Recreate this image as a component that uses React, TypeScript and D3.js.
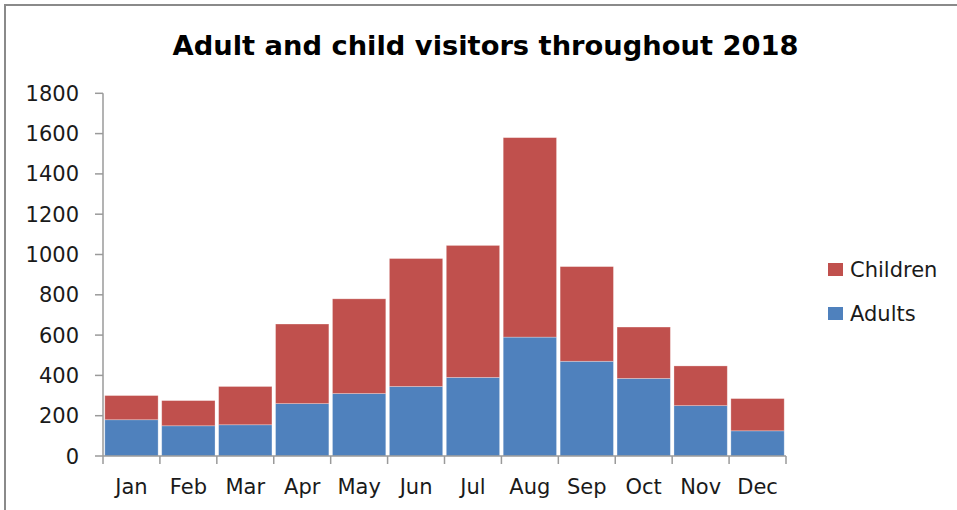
import React from "react";
import * as d3 from "d3";

const months = ["Jan", "Feb", "Mar", "Apr", "May", "Jun", "Jul", "Aug", "Sep", "Oct", "Nov", "Dec"];
const adults = [180, 150, 155, 260, 310, 345, 390, 590, 470, 385, 250, 125];
const children = [120, 125, 190, 395, 470, 635, 655, 990, 470, 255, 197, 160];
const seriesNames = ["Adults", "Children"];
const seriesColors = ["#4F81BD", "#C0504D"];
const yTicks = [0, 200, 400, 600, 800, 1000, 1200, 1400, 1600, 1800];
const title = "Adult and child visitors throughout 2018";

const W = 957;
const H = 510;
const plot = { left: 103, right: 786, top: 93.3, bottom: 456 };

export default function App() {
  const x = d3.scaleBand<string>().domain(months).range([plot.left, plot.right]).padding(0);
  const y = d3.scaleLinear().domain([0, 1800]).range([plot.bottom, plot.top]);
  const data = months.map((m, i) => ({ month: m, Adults: adults[i], Children: children[i] }));
  const stacked = d3.stack<any>().keys(seriesNames)(data);
  const bw = x.bandwidth();
  const font = "'DejaVu Sans', sans-serif";
  const axisColor = "#9a9a9a";
  const fs = 21;

  return (
    <svg width={W} height={H} style={{ position: "absolute", left: 0, top: 0, background: "#fff" }}>
      <rect x={0} y={0} width={W} height={H} fill="#fff" />
      <rect x={5} y={5} width={W + 20} height={H + 20} fill="none" stroke="#8a8a8a" strokeWidth={2} />
      <text x={485.5} y={55} textAnchor="middle" fontFamily={font} fontWeight="bold" fontSize={27.3} fill="#000">
        {title}
      </text>
      {stacked.map((s, si) => (
        <g key={s.key} fill={seriesColors[si]}>
          {s.map((d, i) => (
            <rect
              key={i}
              x={(x(months[i]) as number) + 1.8}
              width={bw - 3.6}
              y={y(d[1])}
              height={y(d[0]) - y(d[1])}
              stroke="rgba(255,255,255,0.35)"
              strokeWidth={0.8}
            />
          ))}
        </g>
      ))}
      {/* y axis */}
      <line x1={plot.left} x2={plot.left} y1={plot.top} y2={plot.bottom} stroke={axisColor} strokeWidth={1.5} />
      {yTicks.map((t) => (
        <g key={t}>
          <line x1={plot.left - 8} x2={plot.left} y1={y(t)} y2={y(t)} stroke={axisColor} strokeWidth={1.5} />
          <text x={79} y={y(t)} dy="0.36em" textAnchor="end" fontFamily={font} fontSize={fs} fill="#1a1a1a">
            {t}
          </text>
        </g>
      ))}
      {/* x axis */}
      <line x1={plot.left} x2={plot.right} y1={plot.bottom} y2={plot.bottom} stroke={axisColor} strokeWidth={1.5} />
      {[...months.map((m) => x(m) as number), plot.right].map((px, i) => (
        <line key={i} x1={px} x2={px} y1={plot.bottom} y2={plot.bottom + 8} stroke={axisColor} strokeWidth={1.5} />
      ))}
      {months.map((m) => (
        <text key={m} x={(x(m) as number) + bw / 2} y={494} textAnchor="middle" fontFamily={font} fontSize={fs} fill="#1a1a1a">
          {m}
        </text>
      ))}
      {/* legend */}
      {[1, 0].map((si, k) => (
        <g key={si} transform={`translate(828, ${263 + k * 44})`}>
          <rect x={0} y={0} width={15} height={13} fill={seriesColors[si]} />
          <text x={22} y={14} fontFamily={font} fontSize={fs} fill="#1a1a1a">
            {seriesNames[si]}
          </text>
        </g>
      ))}
    </svg>
  );
}
